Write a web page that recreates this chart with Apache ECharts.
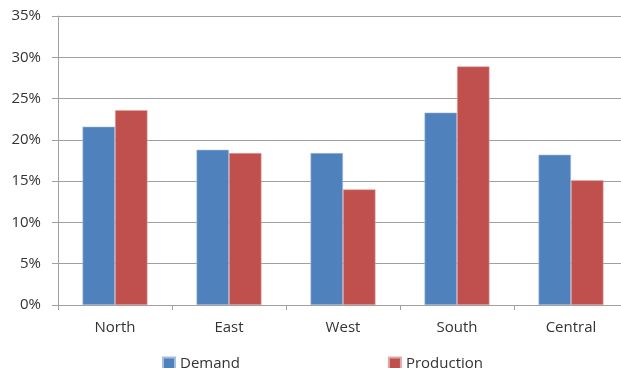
<!DOCTYPE html>
<html lang="en">
<head>
    <meta charset="UTF-8">
    <title>Demand vs Production</title>
    <script src="https://cdn.jsdelivr.net/npm/echarts@6/dist/echarts.min.js"></script>
    <style>
        html, body { margin: 0; padding: 0; background: #fff; overflow: hidden; }
        /* plot runs a little past the right edge of the window, as in the original */
        #main { width: 628px; height: 368px; }
    </style>
</head>
<body>
<div id="main"></div>
<script>
    // regions and shares (percent)
    var regions = ['North', 'East', 'West', 'South', 'Central'];
    var demand = [21.6, 18.8, 18.4, 23.3, 18.2];
    var production = [23.6, 18.4, 14.0, 28.9, 15.1];
    var yTicks = [0, 5, 10, 15, 20, 25, 30, 35];

    var textColor = '#333';
    var lineColor = '#a0a0a0';

    var myChart = echarts.init(document.getElementById('main'));
    myChart.setOption({
        animation: false,
        grid: {
            left: 58,
            right: 0,
            top: 16,
            bottom: 63
        },
        legend: {
            data: ['Demand', 'Production'],
            left: 157,
            top: 351,
            icon: 'rect',
            itemWidth: 12,
            itemHeight: 12,
            itemGap: 148,
            textStyle: {
                color: textColor,
                fontFamily: 'Open Sans',
                fontSize: 15
            }
        },
        xAxis: {
            type: 'category',
            data: regions,
            axisLine: { lineStyle: { color: lineColor } },
            axisTick: { show: true, length: 5, lineStyle: { color: lineColor } },
            axisLabel: {
                color: textColor,
                fontFamily: 'Open Sans',
                fontSize: 15,
                margin: 15
            }
        },
        yAxis: {
            type: 'value',
            min: yTicks[0],
            max: yTicks[yTicks.length - 1],
            interval: 5,
            axisLine: { show: true, lineStyle: { color: lineColor } },
            axisTick: { show: true, length: 6, lineStyle: { color: lineColor } },
            splitLine: { lineStyle: { color: lineColor, width: 1 } },
            axisLabel: {
                color: textColor,
                fontFamily: 'Open Sans',
                fontSize: 15,
                margin: 17,
                formatter: '{value}%'
            }
        },
        series: [{
            name: 'Demand',
            type: 'bar',
            data: demand,
            barGap: '0%',
            barCategoryGap: '43%',
            itemStyle: { color: '#4f81bd', borderColor: '#a7bfdf', borderWidth: 0.6 }
        }, {
            name: 'Production',
            type: 'bar',
            data: production,
            itemStyle: { color: '#c0504d', borderColor: '#e0a8a6', borderWidth: 0.6 }
        }]
    });
</script>
</body>
</html>
